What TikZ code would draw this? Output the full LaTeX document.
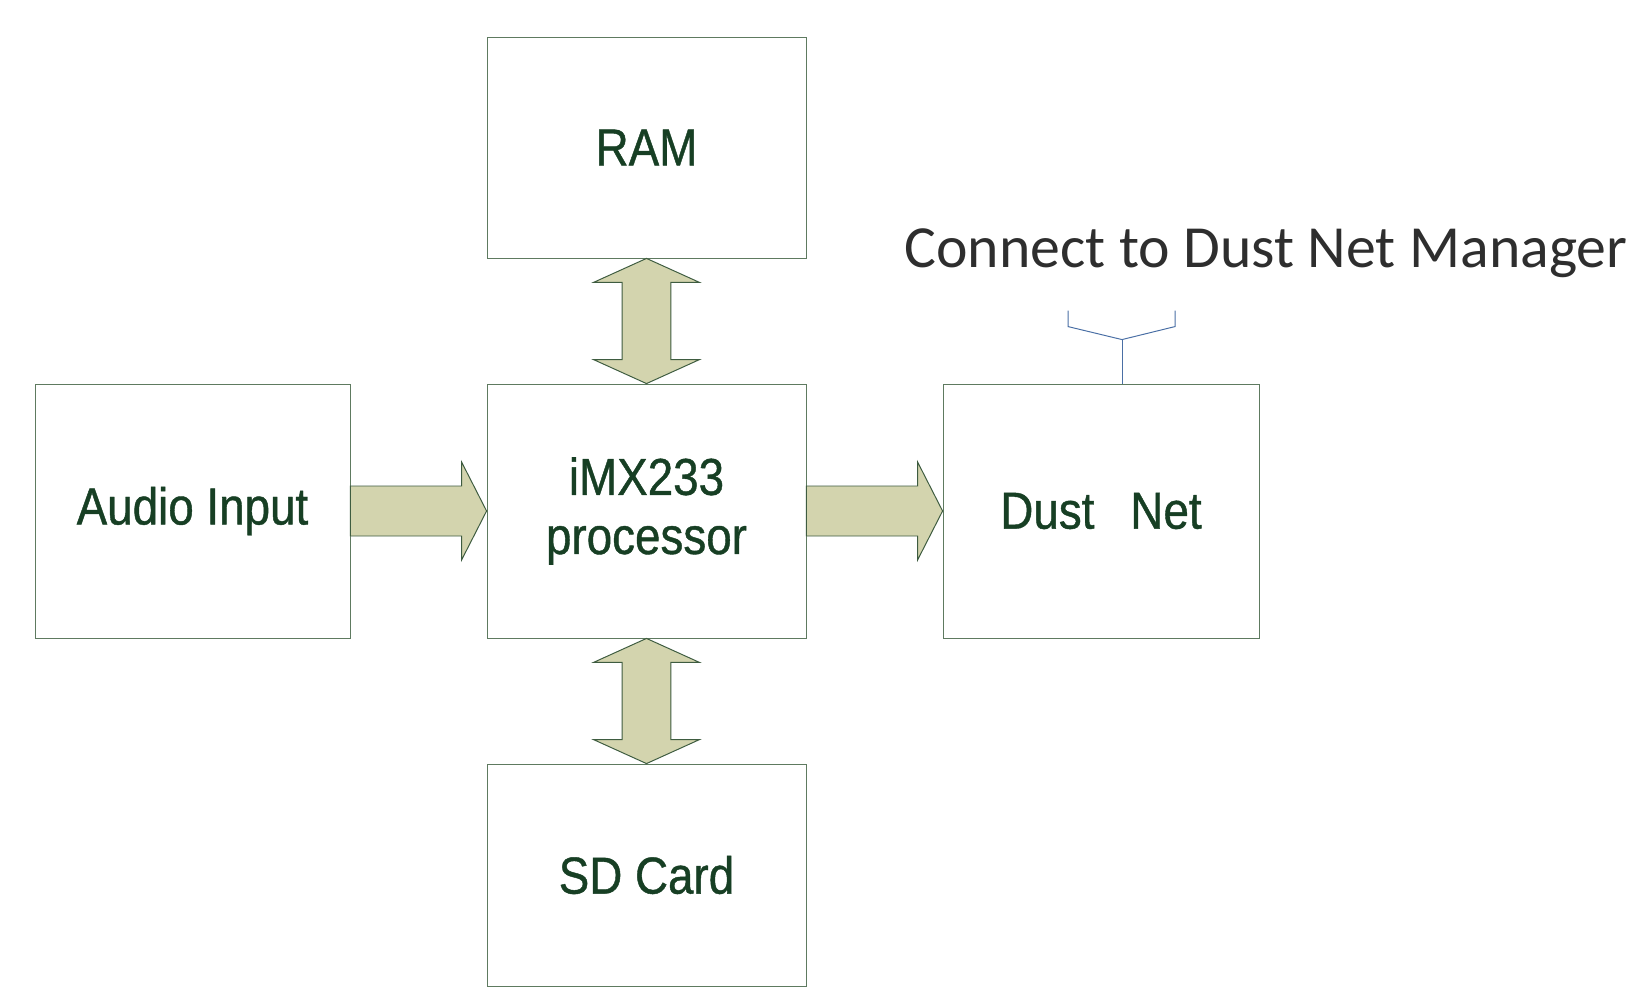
\documentclass[tikz,border=0pt]{standalone}
\usepackage{fontspec}
\setmainfont{Liberation Sans}[FakeStretch=0.88,FakeBold=0.8]
\newfontfamily\titlefont{Carlito}
\usetikzlibrary{calc}

\definecolor{boxline}{HTML}{5E7A60}
\definecolor{boxtext}{HTML}{173F24}
\definecolor{arrowfill}{HTML}{D3D4AE}
\definecolor{arrowline}{HTML}{3E5C40}
\definecolor{antline}{HTML}{4A6FA5}
\definecolor{titletext}{HTML}{2E2E2E}

\tikzset{
  block/.style={draw=boxline, line width=0.6pt, inner sep=0pt, align=center,
    text=boxtext, font=\fontsize{37}{42}\selectfont},
  fatarrow/.style={draw=arrowline, fill=arrowfill, line width=0.7pt, line join=miter},
  antenna/.style={draw=antline, line width=0.7pt}
}

% thick arrow from east side of #1 to west side of #2
\newcommand{\fatright}[2]{%
  \draw[fatarrow] ($(#1.east)+(0,0.625)$) -- ($(#2.west)+(-0.625,0.625)$)
    -- ($(#2.west)+(-0.625,1.225)$) -- (#2.west) -- ($(#2.west)+(-0.625,-1.225)$)
    -- ($(#2.west)+(-0.625,-0.625)$) -- ($(#1.east)+(0,-0.625)$) -- cycle;}
% double thick arrow from south side of #1 to north side of #2
\newcommand{\fatupdown}[2]{%
  \draw[fatarrow] (#1.south) -- ($(#1.south)+(1.325,-0.6)$) -- ($(#1.south)+(0.61,-0.6)$)
    -- ($(#2.north)+(0.61,0.6)$) -- ($(#2.north)+(1.325,0.6)$) -- (#2.north)
    -- ($(#2.north)+(-1.325,0.6)$) -- ($(#2.north)+(-0.61,0.6)$)
    -- ($(#1.south)+(-0.61,-0.6)$) -- ($(#1.south)+(-1.325,-0.6)$) -- cycle;}

\begin{document}
\begin{tikzpicture}
\useasboundingbox (0,0) rectangle (41.25,-25.15);

\node[block, minimum width=7.975cm, minimum height=5.525cm] (ram) at (16.1625,-3.6875) {RAM};
\node[block, minimum width=7.975cm, minimum height=6.35cm] (imx) at (16.1625,-12.775) {iMX233\\processor};
\node[block, minimum width=7.875cm, minimum height=6.35cm] (audio) at (4.8125,-12.775) {Audio Input};
\node[block, minimum width=7.9cm, minimum height=6.35cm] (dust) at (27.525,-12.775) {Dust\hspace{0.9cm}Net};
\node[block, minimum width=7.975cm, minimum height=5.55cm] (sd) at (16.1625,-21.875) {SD Card};

\fatright{audio}{imx}
\fatright{imx}{dust}
\fatupdown{ram}{imx}
\fatupdown{imx}{sd}

% antenna on top of the Dust Net box
\coordinate (ant) at ($(dust.north)+(0.525,1.1)$);
\draw[antenna] ($(dust.north)+(0.525,0)$) -- (ant);
\draw[antenna] ($(ant)+(-1.35,0.725)$) -- ($(ant)+(-1.35,0.325)$) -- (ant)
  -- ($(ant)+(1.325,0.325)$) -- ($(ant)+(1.325,0.725)$);

\node[anchor=base, text=titletext, font=\titlefont\fontsize{42.5}{50}\selectfont] (title)
  at (31.65,-6.7) {Connect to Dust Net Manager};
\end{tikzpicture}
\end{document}
